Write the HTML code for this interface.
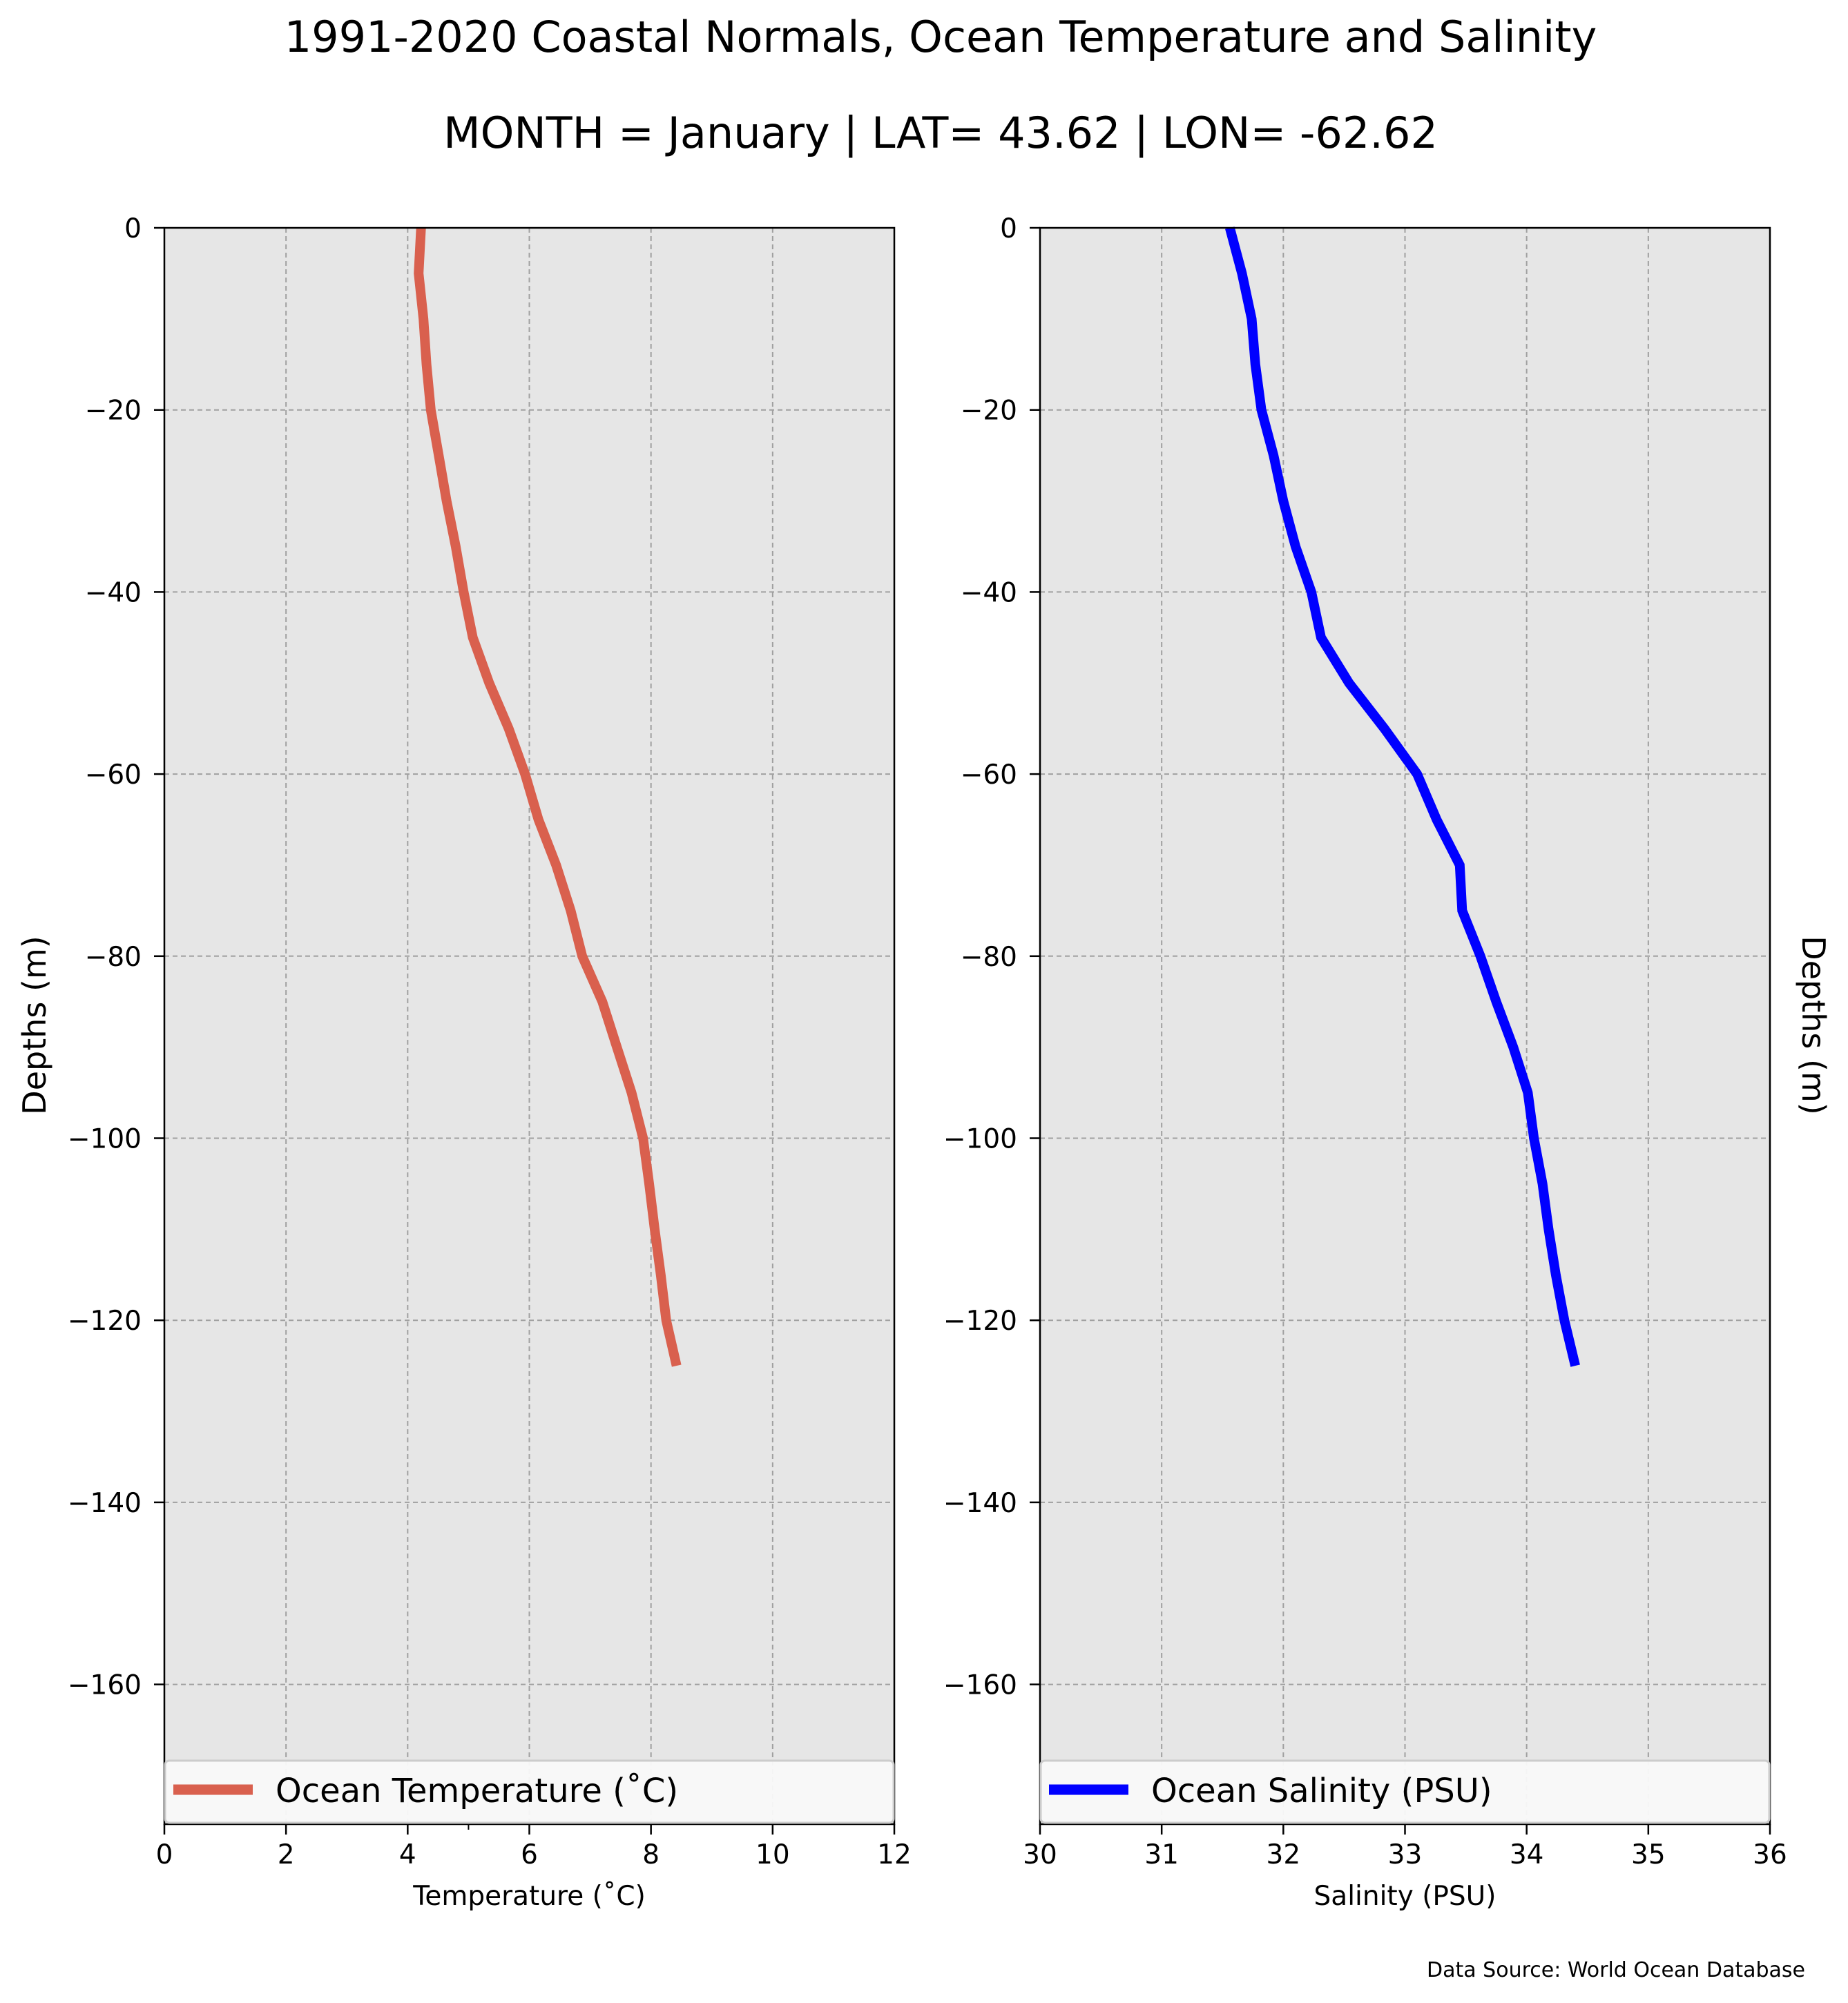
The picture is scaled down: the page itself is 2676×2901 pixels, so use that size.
<!DOCTYPE html>
<html><head><meta charset="utf-8"><style>
html,body{margin:0;padding:0;background:#fff;}
svg{display:block;font-family:"DejaVu Sans","Liberation Sans",sans-serif;}
</style></head><body>
<svg id="fig" width="2676" height="2901" viewBox="0 0 2676 2901" xmlns="http://www.w3.org/2000/svg">
<text x="1362" y="75" font-size="62" text-anchor="middle">1991-2020 Coastal Normals, Ocean Temperature and Salinity</text>
<text x="1362" y="214" font-size="62" text-anchor="middle">MONTH = January | LAT= 43.62 | LON= -62.62</text>
<g id="left"></g>
<g id="right"></g>
<text x="50" y="1485" font-size="46" text-anchor="middle" transform="rotate(-90 50 1485)" dominant-baseline="central">Depths (m)</text>
<text x="2626" y="1485" font-size="46" text-anchor="middle" transform="rotate(90 2626 1485)" dominant-baseline="central">Depths (m)</text>
<text x="2614" y="2863" font-size="30" text-anchor="end">Data Source: World Ocean Database</text>
</svg>
<script>
const depths = [0,-5,-10,-15,-20,-25,-30,-35,-40,-45,-50,-55,-60,-65,-70,-75,-80,-85,-90,-95,-100,-105,-110,-115,-120,-125];
const temperature = [4.22,4.18,4.26,4.31,4.38,4.51,4.64,4.79,4.92,5.07,5.34,5.66,5.93,6.15,6.44,6.68,6.87,7.20,7.44,7.68,7.87,7.97,8.06,8.16,8.25,8.42];
const salinity = [31.56,31.66,31.74,31.77,31.82,31.92,32.00,32.10,32.23,32.31,32.54,32.83,33.10,33.26,33.45,33.47,33.62,33.75,33.89,34.01,34.06,34.13,34.18,34.24,34.31,34.40];
const yTicks = [0,-20,-40,-60,-80,-100,-120,-140,-160];
const tempTicks = [0,2,4,6,8,10,12];
const salTicks = [30,31,32,33,34,35,36];

const NS='http://www.w3.org/2000/svg';
const TOP=330, BOT=2642;
const Y_MAX=0, Y_MIN=-175.35;
function yScale(d){return TOP+(Y_MAX-d)/(Y_MAX-Y_MIN)*(BOT-TOP);}
function mk(tag,attrs,parent){const e=document.createElementNS(NS,tag);for(const k in attrs)e.setAttribute(k,attrs[k]);parent.appendChild(e);return e;}

function panel(g,x0,x1,xmin,xmax,xt,vals,color,label,xlabel,minor){
  const xs=v=>x0+(v-xmin)/(xmax-xmin)*(x1-x0);
  const bg=mk('rect',{x:x0,y:TOP,width:x1-x0,height:BOT-TOP,fill:'#e6e6e6'},g);
  
  
  xt.forEach(t=>{
    const l=mk('line',{x1:xs(t),x2:xs(t),y1:TOP,y2:BOT,stroke:'#a0a0a0','stroke-width':2,'stroke-dasharray':'7,5'},g);
    
    
    const tk=mk('line',{x1:xs(t),x2:xs(t),y1:BOT,y2:BOT+15,stroke:'#000','stroke-width':2.5},g);
    
    
    const tl=mk('text',{x:xs(t),y:BOT+57,'font-size':39,'text-anchor':'middle'},g);
    tl.textContent=String(t);
    
    
  });
  if(minor!==undefined){
    const mt=mk('line',{x1:xs(minor),x2:xs(minor),y1:BOT,y2:BOT+8,stroke:'#000','stroke-width':2},g);
    
    
  }
  yTicks.forEach(t=>{
    const l=mk('line',{x1:x0,x2:x1,y1:yScale(t),y2:yScale(t),stroke:'#a0a0a0','stroke-width':2,'stroke-dasharray':'7,5'},g);
    
    
    const tk=mk('line',{x1:x0-15,x2:x0,y1:yScale(t),y2:yScale(t),stroke:'#000','stroke-width':2.5},g);
    
    
    const tl=mk('text',{x:x0-33,y:yScale(t)+14,'font-size':39,'text-anchor':'end'},g);
    tl.textContent=t<0?'\u2212'+(-t):String(t);
    
    
  });
  const pts=vals.map((v,i)=>xs(v).toFixed(1)+','+yScale(depths[i]).toFixed(1)).join(' ');
  const pl=mk('polyline',{points:pts,fill:'none',stroke:color,'stroke-width':14,'stroke-linejoin':'miter'},g);
  
  
  const fr=mk('rect',{x:x0,y:TOP,width:x1-x0,height:BOT-TOP,fill:'none',stroke:'#000','stroke-width':2.5},g);
  
  
  const lg=mk('rect',{x:x0+1,y:2550,width:x1-x0-2,height:90,rx:6,fill:'#f9f9f9','fill-opacity':0.95,stroke:'#cccccc','stroke-width':3},g);
  
  
  const ll=mk('line',{x1:x0+13,x2:x0+128,y1:2592,y2:2592,stroke:color,'stroke-width':15},g);
  
  
  const lt=mk('text',{x:x0+161,y:2610,'font-size':48},g);
  lt.textContent=label;
  
  
  const xl=mk('text',{x:(x0+x1)/2,y:2759,'font-size':39,'text-anchor':'middle'},g);
  xl.textContent=xlabel;
  
  
}
panel(document.getElementById('left'),238,1295,0,12,tempTicks,temperature,'#d9604e','Ocean Temperature (\u02DAC)','Temperature (\u02DAC)',5);
panel(document.getElementById('right'),1506,2563,30,36,salTicks,salinity,'#0000ff','Ocean Salinity (PSU)','Salinity (PSU)');
</script>
</body></html>
